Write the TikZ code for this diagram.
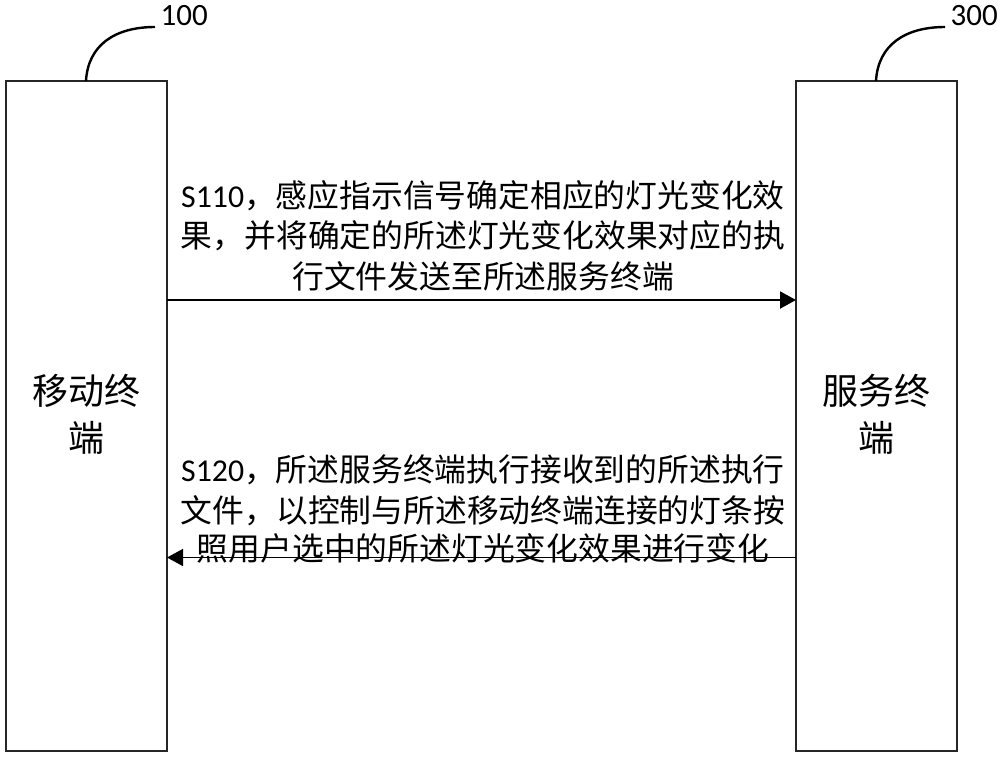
\documentclass[tikz,border=0pt]{standalone}
\usepackage{fontspec}
\setmainfont{Carlito}
\newfontfamily\cjk{Noto Sans CJK SC}
\usetikzlibrary{arrows.meta}
\tikzset{termbox/.style={draw=black!85,line width=1.8pt,fill=white,inner sep=0pt,outer sep=0pt},
 flow/.style={draw=black,-{Triangle[length=16pt,width=17pt]}},
 lead/.style={draw=black,line width=2.4pt},
 lbl/.style={font=\fontsize{31.8pt}{38pt}\selectfont,inner sep=0pt,anchor=center},
 big/.style={font=\cjk\fontsize{36pt}{47pt}\selectfont,inner sep=0pt,align=center},
 num/.style={font=\fontsize{31pt}{34pt}\selectfont,inner sep=0pt}}
\begin{document}
\begin{tikzpicture}[x=1pt,y=-1pt]
\useasboundingbox (0,0) rectangle (1000,756);
\node[termbox,minimum width=161pt,minimum height=670pt,anchor=north west] (m) at (5.7,81) {};
\node[termbox,minimum width=161pt,minimum height=670pt,anchor=north west] (s) at (796,81) {};
\node[big] (mt) at (86.5,414) {移动终\\端};
\node[big] (st) at (876.5,414) {服务终\\端};
\coordinate (m1) at (167,300);\coordinate (s1) at (796,300);
\coordinate (m2) at (167,557.5);\coordinate (s2) at (796,557.5);
\draw[flow,line width=2pt] (m1) -- (s1);
\draw[flow,line width=1.5pt] (s2) -- (m2);
\node[lbl] (a1) at (483,196) {S110\cjk ，感应指示信号确定相应的灯光变化效};
\node[lbl] (a2) at (483,236) {\cjk 果，并将确定的所述灯光变化效果对应的执};
\node[lbl] (a3) at (483,276) {\cjk 行文件发送至所述服务终端};
\node[lbl] (b1) at (483,470) {S120\cjk ，所述服务终端执行接收到的所述执行};
\node[lbl] (b2) at (483,511) {\cjk 文件，以控制与所述移动终端连接的灯条按};
\node[lbl] (b3) at (483,548) {\cjk 照用户选中的所述灯光变化效果进行变化};
\node[num,anchor=west] (n1) at (160.5,16) {100};
\node[num,anchor=west] (n3) at (950.5,16) {300};
\coordinate (l1) at (86,81);\coordinate (l3) at (876,81);
\coordinate (e1) at (155,27);\coordinate (e3) at (945,27);
\draw[lead] (l1) .. controls (88,45) and (115,27) .. (e1);
\draw[lead] (l3) .. controls (878,45) and (905,27) .. (e3);
\end{tikzpicture}
\end{document}
